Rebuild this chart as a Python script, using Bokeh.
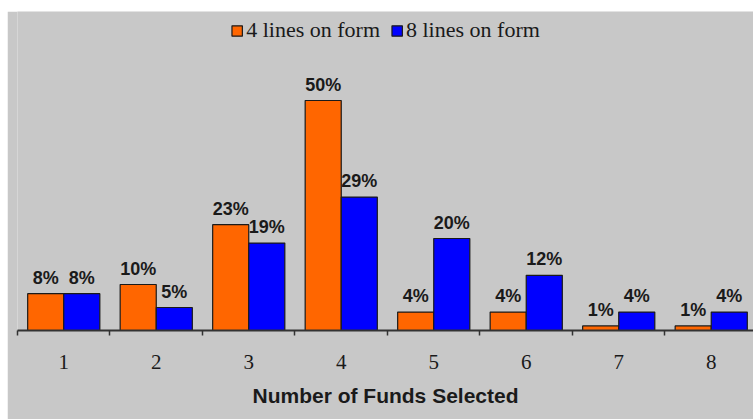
from bokeh.plotting import figure
from bokeh.models import (ColumnDataSource, LabelSet, FixedTicker, Legend,
                          LegendItem, Spacer)
from bokeh.core.properties import value
from bokeh.layouts import column, row
from bokeh.embed import file_html
from bokeh.resources import INLINE

# Share of participants by number of funds selected
funds = [1, 2, 3, 4, 5, 6, 7, 8]
four_lines = [8, 10, 23, 50, 4, 4, 1, 1]
eight_lines = [8, 5, 19, 29, 20, 12, 4, 4]
series_names = ["4 lines on form", "8 lines on form"]

ORANGE = "#ff6600"
BLUE = "#0000ff"
BG = "#c8c8c8"
INK = "#1a1a1a"

bar_w = 0.39
src4 = ColumnDataSource(dict(
    x=[f - bar_w / 2 for f in funds], top=four_lines,
    text=[f"{v}%" for v in four_lines]))
src8 = ColumnDataSource(dict(
    x=[f + bar_w / 2 for f in funds], top=eight_lines,
    text=[f"{v}%" for v in eight_lines]))

p = figure(width=746, height=408, x_range=(0.5, 8.457), y_range=(0, 69.35),
           output_backend="svg", toolbar_location=None, title=None,
           background_fill_color=BG, border_fill_color=BG,
           outline_line_color=None,
           min_border_left=10, min_border_right=0, min_border_top=0,
           min_border_bottom=89)
p.grid.visible = False
p.yaxis.visible = False

r4 = p.vbar(x="x", top="top", width=bar_w, source=src4, fill_color=ORANGE,
            line_color=INK, line_width=1.2)
r8 = p.vbar(x="x", top="top", width=bar_w, source=src8, fill_color=BLUE,
            line_color=INK, line_width=1.2)

# Percentage labels above each bar
for s in (src4, src8):
    p.add_layout(LabelSet(x="x", y="top", text="text", source=s,
                          text_align="center", text_baseline="alphabetic",
                          y_offset=10, text_font=value("Liberation Sans"),
                          text_font_style="bold", text_font_size="18px",
                          text_color=INK))

ax = p.xaxis[0]
ax.ticker = FixedTicker(ticks=funds,
                        minor_ticks=[f - 0.5 for f in funds] + [funds[-1] + 0.5])
ax.major_tick_out = 0
ax.major_tick_in = 0
ax.minor_tick_out = 5
ax.minor_tick_in = 0
ax.minor_tick_line_color = "#333333"
ax.minor_tick_line_width = 1.5
ax.axis_line_color = "#333333"
ax.axis_line_width = 1.8
ax.major_label_text_font = "Liberation Serif"
ax.major_label_text_font_size = "21px"
ax.major_label_text_color = INK
ax.major_label_standoff = 19
ax.axis_label = "Number of Funds Selected"
ax.axis_label_text_font = "Liberation Sans"
ax.axis_label_text_font_style = "bold"
ax.axis_label_text_font_size = "21px"
ax.axis_label_text_color = INK
ax.axis_label_standoff = 12

legend = Legend(items=[LegendItem(label=series_names[0], renderers=[r4]),
                       LegendItem(label=series_names[1], renderers=[r8])],
                orientation="horizontal", location="top_center",
                background_fill_alpha=0, border_line_color=None,
                label_text_font="Liberation Serif",
                label_text_font_size="22px", label_text_color=INK,
                glyph_width=13, glyph_height=13, label_standoff=3,
                spacing=10, padding=0, margin=6)
p.add_layout(legend)

layout = column(Spacer(height=11), row(Spacer(width=7), p))
open("out.html", "w").write(file_html(layout, INLINE))
